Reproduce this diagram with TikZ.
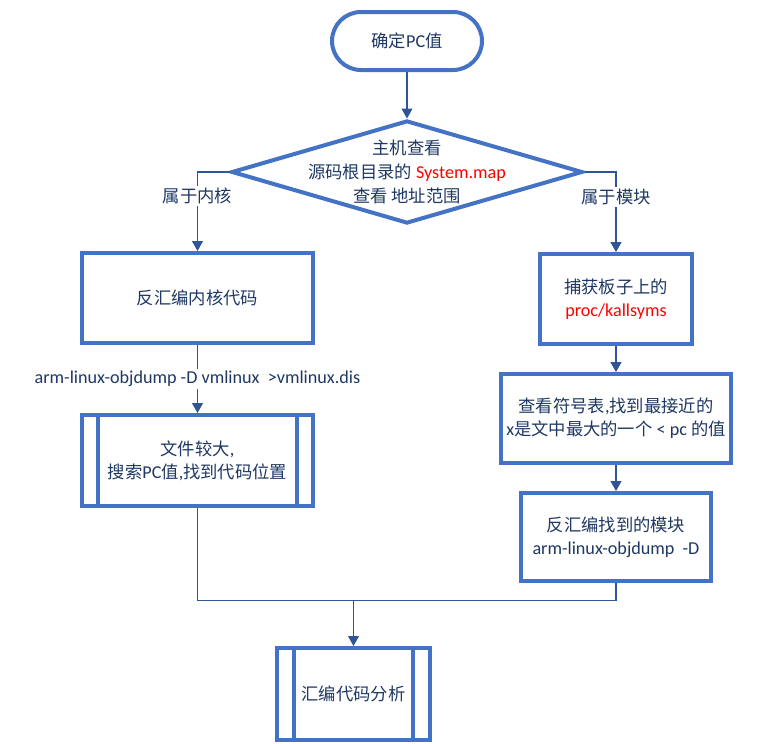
\documentclass[tikz,border=0pt]{standalone}
\usepackage{fontspec}
\setmainfont{Carlito}[Scale=1.05]
\newfontfamily\cjk{Noto Sans CJK SC}
\usetikzlibrary{arrows.meta,shapes.geometric}
\newcommand{\zh}[1]{{\cjk #1}}
\definecolor{boxblue}{HTML}{4472C4}
\definecolor{linkblue}{HTML}{2F5597}
\definecolor{txtnavy}{HTML}{1F3864}
\definecolor{redtxt}{HTML}{FF0000}
\tikzset{
  base/.style={draw=boxblue, line width=4pt, fill=white, text=txtnavy, inner sep=0pt,
    font=\fontsize{17.3}{23}\selectfont, align=center},
  procbox/.style={base, rectangle},
  termbox/.style={base, rectangle, rounded corners=29pt},
  decbox/.style={base, diamond},
  conn/.style={draw=linkblue, line width=1.2pt},
  arr/.style={conn, -{Triangle[width=11pt,length=10pt]}},
  lbl/.style={fill=white, text=txtnavy, inner sep=2pt, font=\fontsize{17.3}{20}\selectfont},
  plain/.style={text=txtnavy, inner sep=0pt, font=\fontsize{17.3}{24}\selectfont, align=center}
}
\begin{document}
\begin{tikzpicture}[x=1pt,y=-1pt]
\useasboundingbox (0,0) rectangle (774,744);
\node[termbox, minimum width=150pt, minimum height=58pt] (start) at (407,41) {\zh{确定}PC\zh{值}};
\node[decbox, minimum width=351pt, minimum height=103pt] (dec) at (407,172) {};
\node[plain] (dectext) at (407,172) {\zh{主机查看}\\\zh{源码根目录的} \textcolor{redtxt}{System.map}\\\zh{查看 地址范围}};
\node[procbox, minimum width=231pt, minimum height=90pt] (k1) at (197.5,298) {\zh{反汇编内核代码}};
\node[procbox, minimum width=231pt, minimum height=91pt] (k2) at (197.5,460.5) {\zh{文件较大},\\\zh{搜索}PC\zh{值},\zh{找到代码位置}};
\node[procbox, minimum width=152pt, minimum height=90pt] (m1) at (616,299) {\zh{捕获板子上的}\\\textcolor{redtxt}{proc/kallsyms}};
\node[procbox, minimum width=230pt, minimum height=89pt] (m2) at (616,418.5) {\zh{查看符号表},\zh{找到最接近的}\\x\zh{是文中最大的一个} \textless{} pc \zh{的值}};
\node[procbox, minimum width=190pt, minimum height=88pt] (m3) at (616,537) {\zh{反汇编找到的模块}\\arm-linux-objdump\ \ -D};
\node[procbox, minimum width=153pt, minimum height=92pt] (fin) at (353.5,694) {\zh{汇编代码分析}};
% predefined-process side bars
\draw[draw=boxblue, line width=4pt] ([xshift=18pt]k2.north west) -- ([xshift=18pt]k2.south west);
\draw[draw=boxblue, line width=4pt] ([xshift=-18pt]k2.north east) -- ([xshift=-18pt]k2.south east);
\draw[draw=boxblue, line width=4pt] ([xshift=19pt]fin.north west) -- ([xshift=19pt]fin.south west);
\draw[draw=boxblue, line width=4pt] ([xshift=-19pt]fin.north east) -- ([xshift=-19pt]fin.south east);
% connectors
\draw[arr] (start.south) -- (dec.north);
\draw[arr] (dec.west) -| node[lbl, pos=0.654] {\zh{属于内核}} (k1.north);
\draw[arr] (dec.east) -| node[lbl, pos=0.654] {\zh{属于模块}} (m1.north);
\draw[arr] (k1.south) -- node[lbl, pos=0.5] {arm-linux-objdump -D vmlinux\ \ >vmlinux.dis} (k2.north);
\draw[arr] (m1.south) -- (m2.north);
\draw[arr] (m2.south) -- (m3.north);
\coordinate (join) at (353.5,600.5);
\draw[conn] (k2.south) |- (join);
\draw[conn] (m3.south) |- (join);
\draw[arr] (join) -- (fin.north);
\end{tikzpicture}
\end{document}
